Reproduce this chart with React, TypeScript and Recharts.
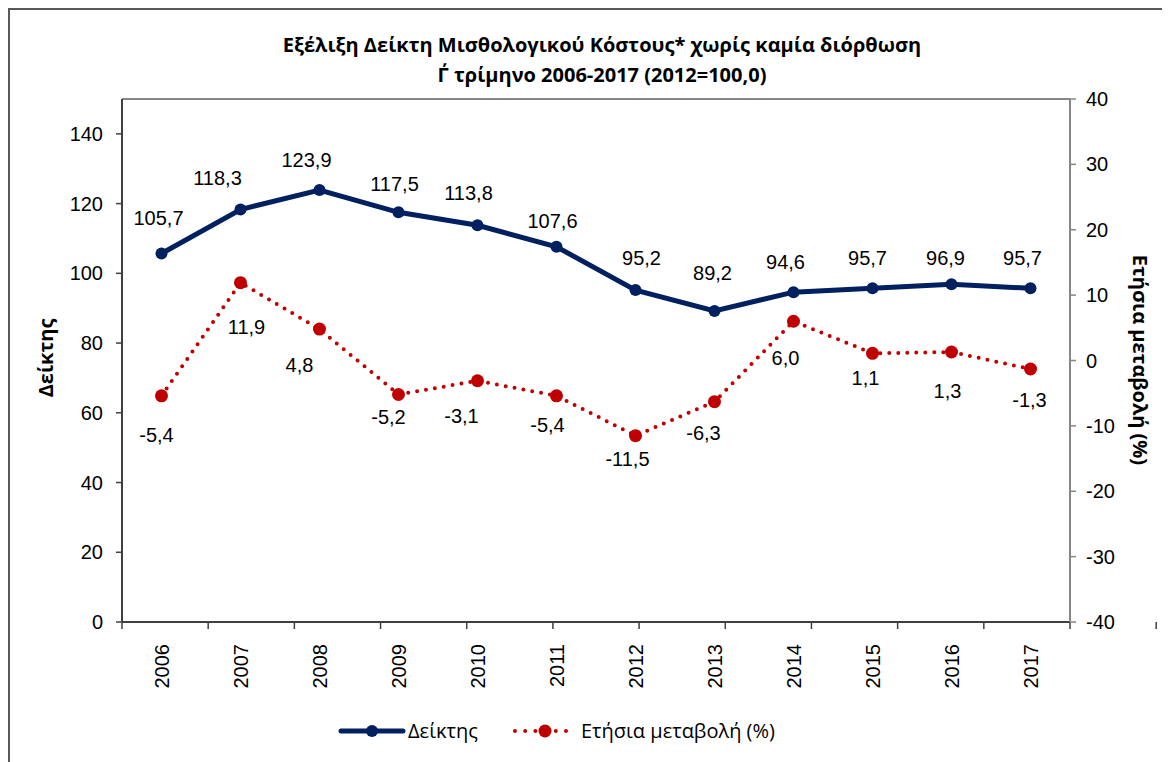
import React from 'react';
import { ComposedChart, Line, XAxis, YAxis, LabelList, ReferenceLine } from 'recharts';

const years = ['2006', '2007', '2008', '2009', '2010', '2011', '2012', '2013', '2014', '2015', '2016', '2017'];
const indexValues = [105.7, 118.3, 123.9, 117.5, 113.8, 107.6, 95.2, 89.2, 94.6, 95.7, 96.9, 95.7];
const changeValues = [-5.4, 11.9, 4.8, -5.2, -3.1, -5.4, -11.5, -6.3, 6.0, 1.1, 1.3, -1.3];

const leftTicks = [0, 20, 40, 60, 80, 100, 120, 140];
const rightTicks = [-40, -30, -20, -10, 0, 10, 20, 30, 40];
const boundaryTicks = [0, 1, 2, 3, 4, 5, 6, 7, 8, 9, 10, 11, 12];

// where the data labels sit relative to their point (hand placed in the original)
const indexLabelDx = [-3, -23, -13, -4, -9, -4, 6, -2, -8, -5, -6, -8];
const indexLabelDy = [-35, -32, -30, -28, -32, -26, -32, -38, -30, -30, -26, -30];
const changeLabelDx = [-5, 6, -20, -10, -16, -9, -8, -11, -8, -7, -4, -1];
const changeLabelDy = [39, 44, 36, 23, 35, 29, 23, 31, 37, 25, 39, 31];

const NAVY = '#002060';
const RED = '#C00000';
const DARK = '#404040';
const GREY = '#868686';
const ARIAL = '"Liberation Sans", Arial, sans-serif';
const CALIBRI = '"Open Sans", "Noto Sans", sans-serif';

const data = years.map((year, i) => ({ year, index: indexValues[i], change: changeValues[i] }));

const fmt = (v: number) => v.toFixed(1).replace('.', ',');

const YearTick = (props: any) => {
  const { x, y, payload } = props;
  const ty = y + 21;
  return (
    <text
      x={x}
      y={ty}
      transform={`rotate(-90, ${x}, ${ty})`}
      textAnchor="end"
      dy="0.35em"
      fontSize={20}
      fontFamily={ARIAL}
      fill="#000"
    >
      {payload.value}
    </text>
  );
};

const NoTick = () => <g />;

const makeLabel = (dxs: number[], dys: number[]) => (props: any) => {
  const { x, y, value, index } = props;
  return (
    <text
      x={x + dxs[index]}
      y={y + dys[index]}
      dy="0.35em"
      textAnchor="middle"
      fontSize={20}
      fontFamily={ARIAL}
      fill="#000"
    >
      {fmt(value)}
    </text>
  );
};

const App: React.FC = () => {
  return (
    <div
      style={{
        position: 'relative',
        width: 1160,
        height: 752,
        borderTop: '2px solid #595959',
        borderLeft: '2px solid #595959',
        background: '#fff',
      }}
    >
      <div
        style={{
          position: 'absolute',
          left: 12,
          top: 20,
          width: 1160,
          textAlign: 'center',
          fontFamily: CALIBRI,
          fontWeight: 700,
          fontSize: 20,
          lineHeight: '30px',
          color: '#000',
        }}
      >
        <div>Εξέλιξη Δείκτη Μισθολογικού Κόστους* χωρίς καμία διόρθωση</div>
        <div>Γ΄ τρίμηνο 2006-2017 (2012=100,0)</div>
      </div>

      <ComposedChart width={1160} height={752} data={data} margin={{ top: 89, right: 0, bottom: 69, left: 0 }}>
        <XAxis
          xAxisId="g"
          type="number"
          domain={[0, 12]}
          ticks={boundaryTicks}
          allowDataOverflow
          height={1}
          tick={<NoTick />}
          tickSize={7}
          tickLine={{ stroke: DARK, strokeWidth: 1.5 }}
          axisLine={{ stroke: DARK, strokeWidth: 2 }}
        />
        <XAxis
          xAxisId="x"
          dataKey="year"
          scale="band"
          height={70}
          interval={0}
          axisLine={false}
          tickLine={false}
          tickSize={0}
          tickMargin={0}
          tick={<YearTick />}
        />
        <YAxis
          yAxisId="left"
          width={112}
          domain={[0, 150]}
          ticks={leftTicks}
          interval={0}
          tickSize={6}
          tickMargin={13}
          axisLine={{ stroke: DARK, strokeWidth: 2 }}
          tickLine={{ stroke: DARK, strokeWidth: 1.5 }}
          tick={{ fill: '#000', fontSize: 20, fontFamily: ARIAL }}
        />
        <YAxis
          yAxisId="right"
          orientation="right"
          width={100}
          domain={[-40, 40]}
          ticks={rightTicks}
          interval={0}
          tickSize={6}
          tickMargin={10}
          axisLine={{ stroke: GREY, strokeWidth: 2 }}
          tickLine={{ stroke: GREY, strokeWidth: 1.5 }}
          tick={{ fill: '#000', fontSize: 20, fontFamily: ARIAL }}
        />
        <ReferenceLine yAxisId="left" xAxisId="x" y={150} stroke={GREY} strokeWidth={2} />
        <Line
          xAxisId="x"
          yAxisId="right"
          dataKey="change"
          stroke={RED}
          strokeWidth={4}
          strokeDasharray="0 9"
          strokeLinecap="round"
          dot={{ r: 6.5, fill: RED, stroke: RED, strokeWidth: 0 }}
          activeDot={false}
          isAnimationActive={false}
        >
          <LabelList dataKey="change" content={makeLabel(changeLabelDx, changeLabelDy)} />
        </Line>
        <Line
          xAxisId="x"
          yAxisId="left"
          dataKey="index"
          stroke={NAVY}
          strokeWidth={5}
          dot={{ r: 6, fill: NAVY, stroke: NAVY, strokeWidth: 0 }}
          activeDot={false}
          isAnimationActive={false}
        >
          <LabelList dataKey="index" content={makeLabel(indexLabelDx, indexLabelDy)} />
        </Line>
      </ComposedChart>

      <div
        style={{
          position: 'absolute',
          left: 35,
          top: 348,
          transform: 'translate(-50%, -50%) rotate(-90deg)',
          fontFamily: CALIBRI,
          fontWeight: 700,
          fontSize: 20,
          whiteSpace: 'nowrap',
          color: '#000',
        }}
      >
        Δείκτης
      </div>
      <div
        style={{
          position: 'absolute',
          left: 1130,
          top: 350,
          transform: 'translate(-50%, -50%) rotate(90deg)',
          fontFamily: CALIBRI,
          fontWeight: 700,
          fontSize: 20,
          whiteSpace: 'nowrap',
          color: '#000',
        }}
      >
        Ετήσια μεταβολή (%)
      </div>

      <svg style={{ position: 'absolute', left: 0, top: 700 }} width={1160} height={44}>
        <line x1={331} y1={21} x2={393} y2={21} stroke={NAVY} strokeWidth={5} strokeLinecap="round" />
        <circle cx={362} cy={21} r={6} fill={NAVY} />
        <text x={398} y={21} dy="0.35em" fontSize={20} fontFamily={CALIBRI} fill="#000">
          Δείκτης
        </text>
        <line
          x1={505}
          y1={21}
          x2={556}
          y2={21}
          stroke={RED}
          strokeWidth={4}
          strokeDasharray="0 10.2"
          strokeLinecap="round"
        />
        <circle cx={535} cy={21} r={6.5} fill={RED} />
        <text x={571} y={21} dy="0.35em" fontSize={20} fontFamily={CALIBRI} fill="#000">
          Ετήσια μεταβολή (%)
        </text>
      </svg>
    </div>
  );
};

export default App;
